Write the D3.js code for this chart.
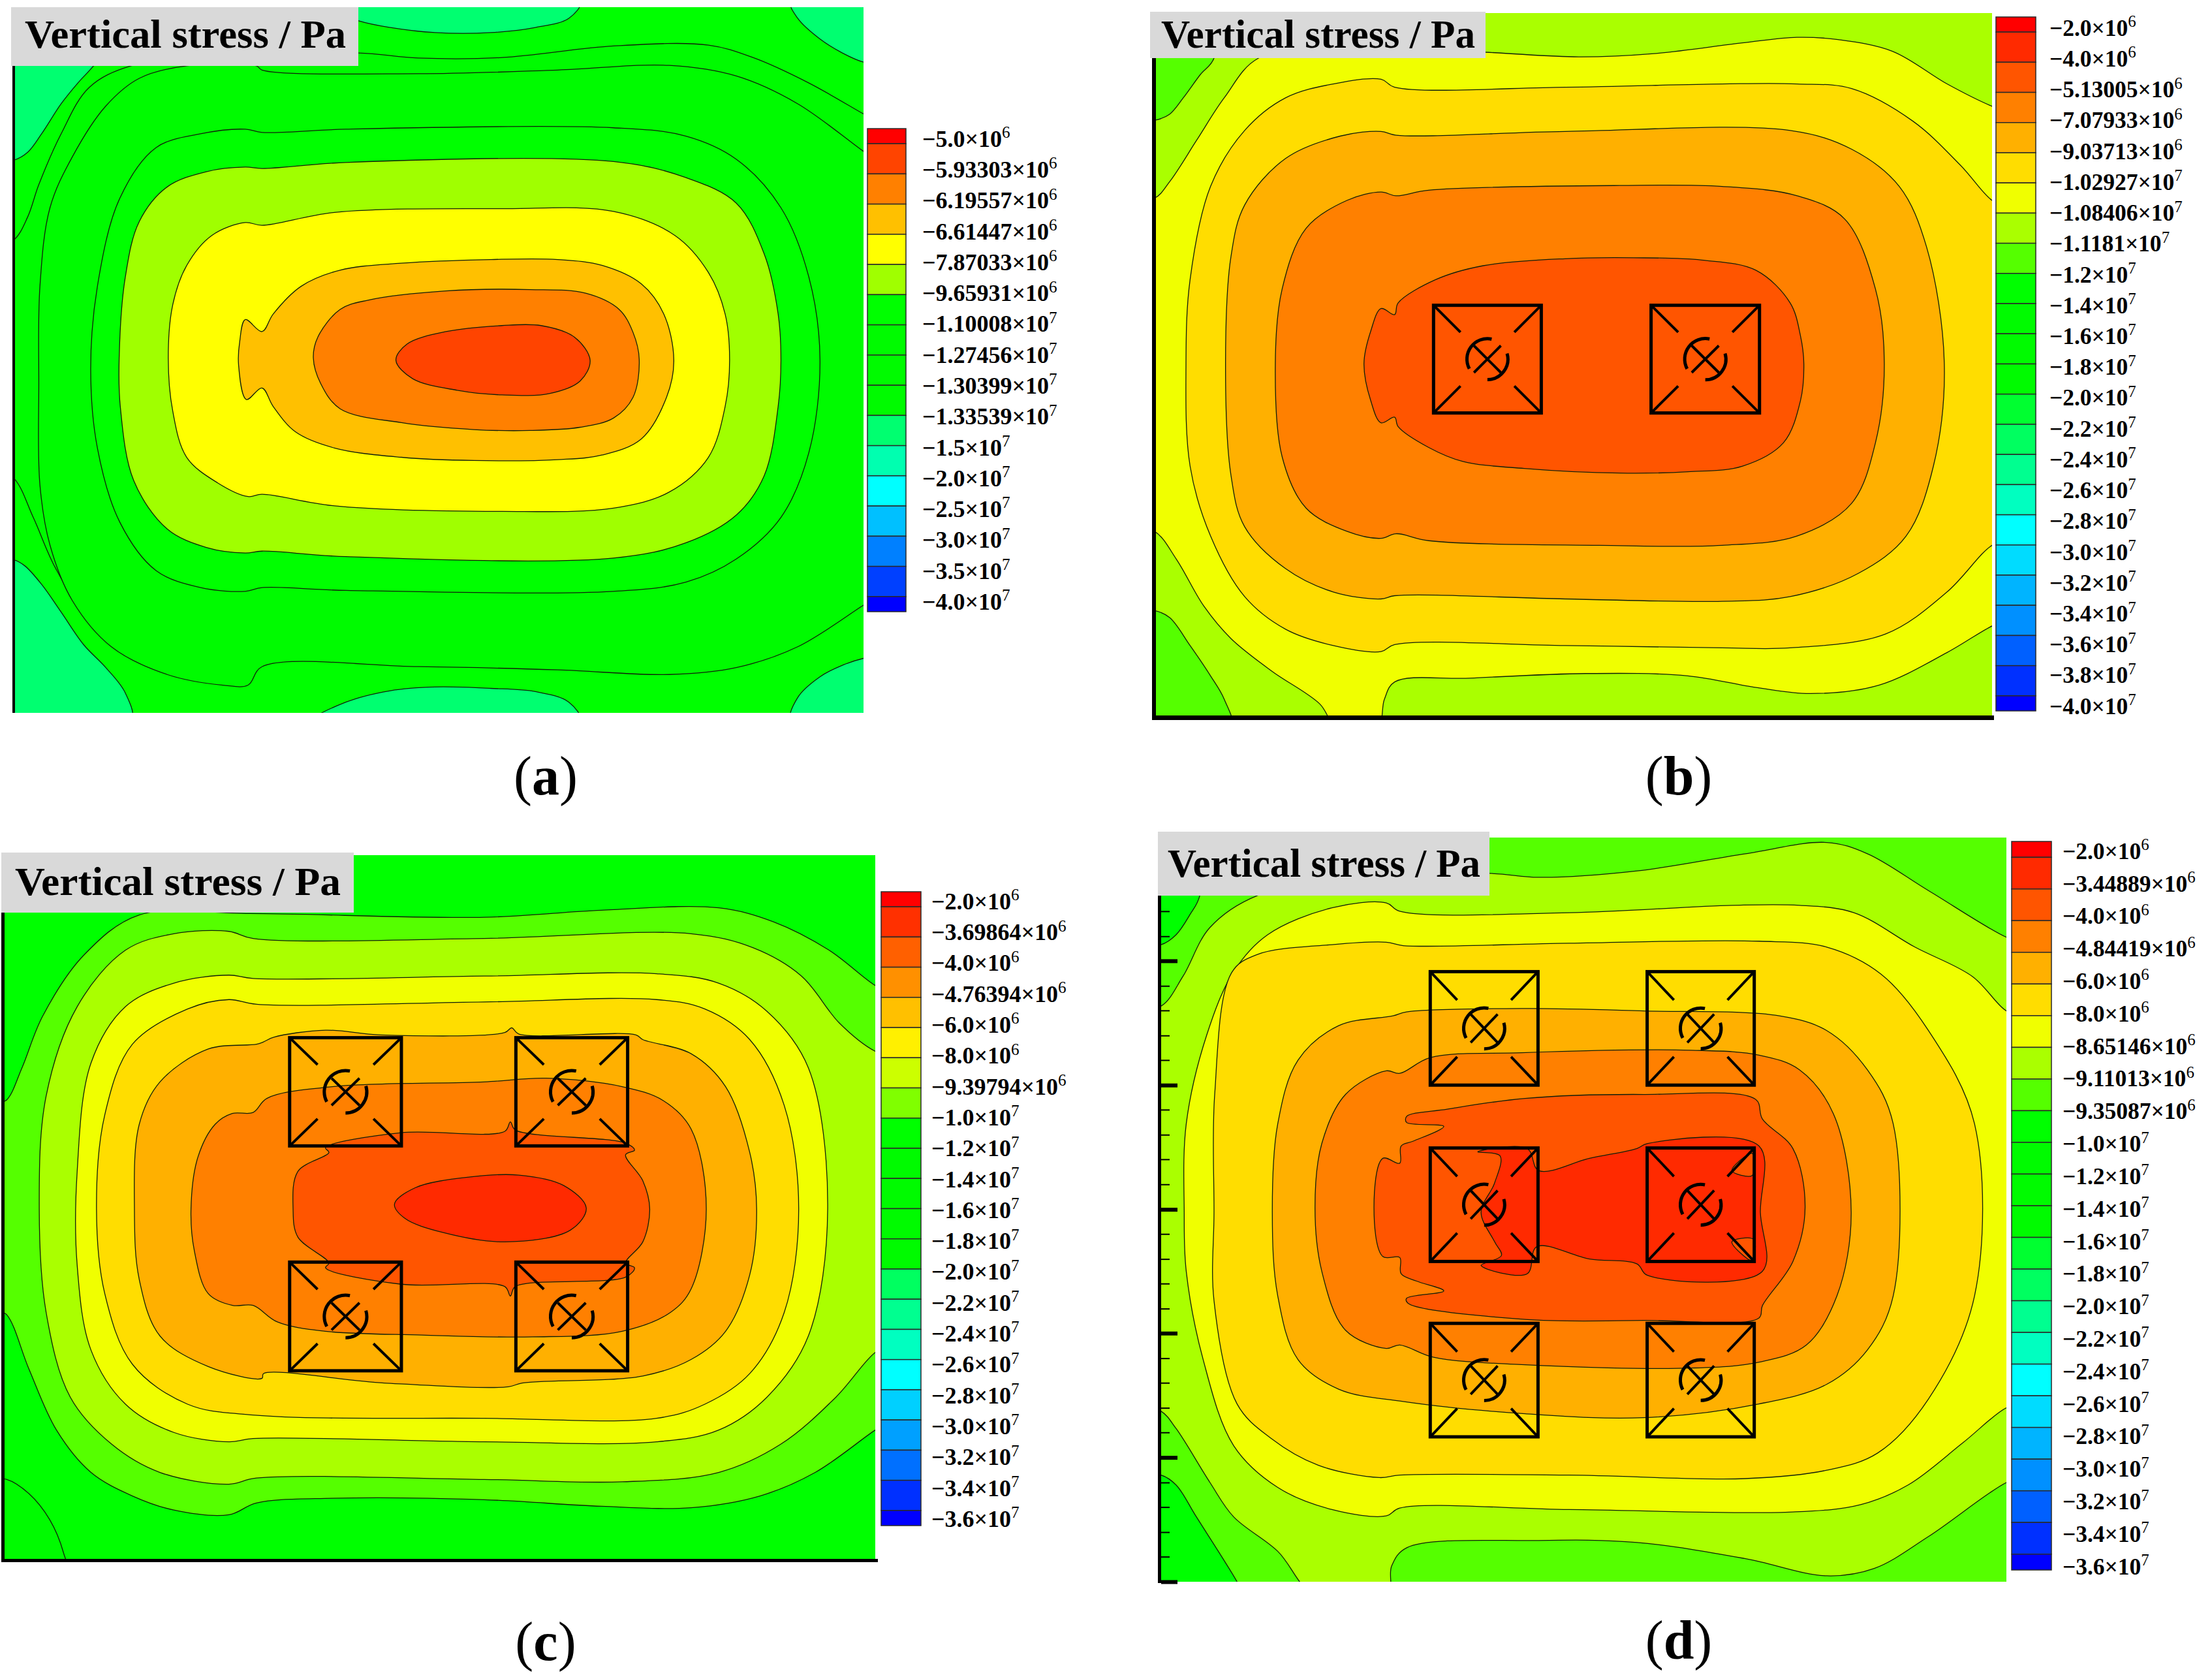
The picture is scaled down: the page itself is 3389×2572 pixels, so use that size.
<!DOCTYPE html>
<html>
<head>
<meta charset="utf-8">
<script src="https://cdn.jsdelivr.net/npm/d3@7"></script>
<style>
html, body { margin: 0; padding: 0; background: #fff; }
text { font-family: "Liberation Serif", serif; fill: #000; }
</style>
</head>
<body>
<div id="figure"></div>
<script>
var titleText = "Vertical stress / Pa";

// legend labels ("mantissa|exponent")
var legendA = ["5.0|6","5.93303|6","6.19557|6","6.61447|6","7.87033|6","9.65931|6","1.10008|7","1.27456|7","1.30399|7","1.33539|7","1.5|7","2.0|7","2.5|7","3.0|7","3.5|7","4.0|7"];
var legendB = ["2.0|6","4.0|6","5.13005|6","7.07933|6","9.03713|6","1.02927|7","1.08406|7","1.1181|7","1.2|7","1.4|7","1.6|7","1.8|7","2.0|7","2.2|7","2.4|7","2.6|7","2.8|7","3.0|7","3.2|7","3.4|7","3.6|7","3.8|7","4.0|7"];
var legendC = ["2.0|6","3.69864|6","4.0|6","4.76394|6","6.0|6","8.0|6","9.39794|6","1.0|7","1.2|7","1.4|7","1.6|7","1.8|7","2.0|7","2.2|7","2.4|7","2.6|7","2.8|7","3.0|7","3.2|7","3.4|7","3.6|7"];
var legendD = ["2.0|6","3.44889|6","4.0|6","4.84419|6","6.0|6","8.0|6","8.65146|6","9.11013|6","9.35087|6","1.0|7","1.2|7","1.4|7","1.6|7","1.8|7","2.0|7","2.2|7","2.4|7","2.6|7","2.8|7","3.0|7","3.2|7","3.4|7","3.6|7"];

var coloursA = ["#ff0000","#ff4400","#ff8000","#ffc000","#ffff00","#a0ff00","#00ff00","#00fb00","#00fb00","#00fb00","#00ff70","#00ffb0","#00ffff","#00c0ff","#0080ff","#0040ff","#0000ff"];
var coloursB = ["#ff0000","#ff2a00","#ff5500","#ff8000","#ffb000","#ffdd00","#f0ff00","#aaff00","#55ff00","#00ff00","#00fb00","#00fb00","#00fb00","#00ff30","#00ff60","#00ff90","#00ffc0","#00ffff","#00dcff","#00b4ff","#0090ff","#0060ff","#0030ff","#0000ff"];
// the colour bar of (c) does not quite follow the colours of its own map
var coloursC = ["#ff0000","#ff3000","#ff6000","#ff9000","#ffc000","#fff000","#ccff00","#80ff00","#00ff00","#00fb00","#00fb00","#00fb00","#00fb00","#00ff60","#00ff90","#00ffc0","#00ffff","#00d0ff","#00a0ff","#0070ff","#0030ff","#0000ff"];
var coloursD = coloursB;

// contour rings, outermost first: level = colour index, pts in digitised plot units
var ringsA = [
  {level: 10, pts: [[560,5],[642,45],[700,60],[780,71],[880,71],[960,60],[1020,40],[1040,5]]},
  {level: 10, pts: [[1418,5],[1430,40],[1470,85],[1510,115],[1548,135],[1575,140],[1575,5]]},
  {level: 10, pts: [[-20,347],[25,347],[50,330],[75,290],[110,225],[140,180],[168,143],[200,90],[200,-10],[-20,-10]]},
  {level: 10, pts: [[-20,1212],[25,1212],[45,1225],[75,1265],[110,1325],[150,1395],[190,1445],[225,1500],[235,1560],[-20,1560]]},
  {level: 10, pts: [[560,1560],[620,1520],[700,1495],[780,1487],[880,1490],[960,1497],[1020,1520],[1040,1560]]},
  {level: 10, pts: [[1418,1560],[1430,1510],[1470,1465],[1510,1440],[1548,1425],[1575,1420],[1575,1560]]},
  {level: 9, pts: [[-20,540],[25,520],[50,470],[70,400],[110,290],[160,190],[235,143],[400,120],[642,115],[750,126],[900,125],[1100,100],[1270,98],[1350,125],[1450,180],[1548,247],[1575,265],[1575,1215],[1548,1235],[1400,1350],[1270,1400],[1150,1415],[750,1405],[470,1405],[440,1425],[340,1425],[240,1405],[160,1340],[100,1230],[60,1120],[25,1035],[-20,1005]]},
  {level: 8, pts: [[335,143],[460,143],[470,152],[750,160],[1000,152],[1200,142],[1320,165],[1430,225],[1548,328],[1575,350],[1575,1290],[1548,1310],[1430,1400],[1320,1445],[1200,1460],[1000,1450],[750,1443],[470,1443],[445,1483],[400,1483],[300,1460],[200,1400],[130,1300],[90,1180],[72,1050],[70,830],[72,620],[90,450],[130,340],[190,230],[250,170]]},
  {level: 6, pts: [[440,280],[470,287],[620,280],[1100,277],[1230,295],[1320,345],[1400,450],[1450,600],[1470,780],[1450,980],[1400,1120],[1320,1210],[1230,1260],[1100,1280],[620,1278],[470,1272],[440,1280],[360,1272],[280,1235],[215,1130],[175,970],[163,800],[175,620],[215,430],[280,320],[360,290]]},
  {level: 5, pts: [[440,362],[470,365],[620,352],[1100,350],[1230,385],[1320,440],[1370,550],[1395,680],[1400,780],[1395,880],[1370,1030],[1320,1115],[1230,1175],[1100,1208],[620,1205],[470,1193],[440,1197],[370,1185],[300,1145],[240,1040],[216,880],[214,775],[225,600],[250,480],[300,405],[370,372]]},
  {level: 4, pts: [[440,482],[470,488],[600,460],[900,452],[1100,458],[1210,510],[1270,590],[1300,680],[1308,780],[1300,880],[1270,990],[1200,1065],[1100,1100],[900,1107],[600,1095],[470,1070],[445,1075],[390,1045],[335,990],[310,890],[302,775],[310,660],[335,575],[380,510]]},
  {level: 3, pts: [[440,692],[470,718],[490,680],[540,620],[610,585],[720,570],[880,562],[1000,562],[1080,575],[1150,615],[1190,680],[1208,780],[1195,860],[1150,950],[1080,985],[1000,995],[850,997],[720,990],[600,970],[530,935],[490,880],[470,840],[442,865],[428,790],[430,740]]},
  {level: 2, pts: [[610,670],[660,650],[800,630],[950,627],[1050,635],[1110,670],[1135,720],[1146,778],[1135,860],[1100,905],[1040,925],[950,932],[850,930],[720,915],[610,885],[575,830],[562,775],[570,730]]},
  {level: 1, pts: [[730,745],[800,718],[900,705],[970,705],[1030,730],[1058,780],[1040,825],[985,852],[900,855],[820,845],[740,820],[710,780]]}
];

var ringsB = [
  {level: 8, pts: [[-20,258],[18,258],[40,245],[60,210],[85,160],[105,125],[105,-10],[-20,-10]]},
  {level: 8, pts: [[-20,1310],[18,1310],[40,1325],[70,1385],[100,1450],[120,1500],[130,1560],[-20,1560]]},
  {level: 6, pts: [[503,112],[640,122],[750,115],[880,92],[960,80],[1020,85],[1100,110],[1180,180],[1246,228],[1270,240],[1270,1330],[1246,1343],[1180,1400],[1080,1470],[980,1488],[900,1475],[800,1450],[650,1445],[480,1455],[370,1463],[355,1500],[345,1560],[285,1560],[260,1510],[190,1440],[130,1370],[90,1300],[50,1200],[18,1140],[-20,1130],[-20,428],[18,425],[40,390],[80,300],[120,210],[170,125],[300,100]]},
  {level: 5, pts: [[350,170],[370,187],[620,187],[850,180],[960,180],[1040,190],[1130,260],[1200,355],[1246,430],[1270,445],[1270,1160],[1246,1170],[1180,1270],[1090,1360],[950,1390],[850,1390],[620,1385],[370,1383],[350,1398],[280,1385],[210,1350],[150,1280],[100,1150],[70,1000],[64,780],[70,600],[100,400],[150,280],[210,210],[280,180]]},
  {level: 4, pts: [[350,282],[372,290],[620,282],[950,280],[1040,320],[1110,400],[1150,530],[1176,780],[1160,1000],[1120,1150],[1050,1230],[950,1280],[850,1290],[620,1285],[370,1278],[350,1285],[280,1270],[210,1220],[150,1130],[130,1020],[122,780],[130,550],[150,440],[210,340],[290,292]]},
  {level: 3, pts: [[350,412],[372,420],[420,408],[700,398],[850,400],[960,420],[1030,470],[1075,620],[1088,780],[1075,950],[1040,1080],[960,1150],[850,1170],[670,1170],[420,1160],[372,1145],[350,1155],[300,1140],[240,1090],[205,980],[195,780],[205,620],[240,490],[300,430]]},
  {level: 2, pts: [[350,662],[370,675],[375,650],[430,600],[500,570],[620,555],[720,553],[820,558],[900,580],[950,650],[965,720],[970,780],[965,860],[940,950],[880,1000],[800,1012],[700,1015],[560,1005],[470,990],[420,960],[375,915],[370,895],[350,907],[335,860],[325,780],[335,710]]}
];

var ringsC = [
  {level: 10, pts: [[-20,1355],[8,1355],[40,1385],[70,1440],[90,1510],[95,1560],[-20,1560]]},
  {level: 8, pts: [[-10,560],[8,548],[30,480],[60,370],[120,240],[200,155],[360,152],[700,160],[870,145],[1040,140],[1120,170],[1200,230],[1267,305],[1290,320],[1290,1230],[1267,1250],[1180,1340],[1100,1390],[1000,1415],[870,1412],[700,1398],[480,1395],[370,1405],[330,1430],[250,1420],[190,1390],[130,1340],[80,1250],[40,1120],[8,1005],[-10,990]]},
  {level: 7, pts: [[330,190],[365,205],[700,205],[1000,195],[1090,225],[1160,285],[1215,385],[1267,445],[1290,455],[1290,1070],[1267,1085],[1210,1180],[1130,1280],[1040,1340],[900,1360],[700,1355],[370,1352],[330,1365],[230,1340],[160,1280],[100,1180],[65,1000],[55,780],[65,540],[110,350],[180,230],[250,195]]},
  {level: 6, pts: [[330,283],[365,290],[700,285],[950,280],[1040,300],[1110,360],[1170,480],[1198,780],[1170,1050],[1110,1180],[1040,1250],[950,1275],[700,1275],[365,1268],[330,1275],[250,1255],[180,1195],[130,1080],[110,900],[110,700],[130,470],[180,350],[250,300]]},
  {level: 5, pts: [[330,335],[370,345],[700,340],[950,335],[1020,355],[1085,420],[1135,560],[1156,780],[1135,1000],[1085,1130],[1020,1195],[950,1225],[700,1225],[365,1218],[270,1195],[190,1110],[150,960],[138,780],[150,580],[190,430],[270,355]]},
  {level: 4, pts: [[380,425],[395,415],[470,400],[550,410],[730,405],[740,395],[750,408],[920,410],[930,420],[1000,450],[1050,520],[1085,660],[1095,780],[1085,920],[1050,1040],[1000,1100],[930,1135],[755,1150],[735,1158],[555,1150],[380,1130],[378,1140],[300,1115],[230,1050],[200,930],[193,780],[200,600],[230,510],[300,440],[370,430]]},
  {level: 3, pts: [[335,577],[365,575],[385,545],[480,520],[700,510],[790,502],[900,520],[960,550],[1000,610],[1022,780],[1000,950],[970,1000],[900,1040],[770,1052],[610,1048],[470,1040],[400,1020],[365,985],[335,985],[300,960],[280,870],[275,780],[285,670],[310,600]]},
  {level: 2, pts: [[430,700],[475,660],[470,650],[580,618],[730,615],[738,595],[745,612],[905,640],[918,655],[905,665],[930,720],[940,780],[930,850],[905,895],[918,905],[905,925],[745,945],[738,965],[730,945],[580,940],[470,905],[475,895],[430,840],[423,780]]},
  {level: 1, pts: [[570,770],[600,735],[680,712],[750,708],[815,730],[848,778],[825,825],[730,850],[640,830],[585,800]]}
];

var ringsD = [
  {level: 9, pts: [[-20,235],[18,235],[40,215],[60,175],[75,135],[75,-10],[-20,-10]]},
  {level: 9, pts: [[-20,1315],[18,1315],[40,1335],[70,1400],[130,1532],[140,1560],[-20,1560]]},
  {level: 7, pts: [[503,90],[575,98],[720,85],[880,50],[1000,27],[1060,50],[1150,125],[1265,220],[1290,230],[1290,1320],[1265,1330],[1150,1440],[1070,1505],[1000,1520],[880,1485],[720,1452],[575,1448],[380,1463],[358,1500],[352,1560],[245,1560],[190,1470],[125,1400],[90,1330],[40,1220],[18,1185],[-20,1170],[-20,365],[18,360],[50,300],[90,200],[160,135],[300,100]]},
  {level: 6, pts: [[350,150],[370,167],[620,170],[860,155],[960,155],[1040,170],[1130,240],[1215,300],[1265,370],[1290,380],[1290,1170],[1265,1178],[1200,1250],[1120,1335],[1050,1375],[950,1390],[620,1385],[370,1382],[350,1398],[270,1385],[190,1340],[125,1255],[80,1080],[55,900],[52,780],[55,600],[85,420],[125,290],[175,215],[270,160]]},
  {level: 5, pts: [[350,230],[375,237],[620,232],[900,228],[1000,240],[1080,295],[1150,410],[1218,600],[1218,950],[1150,1160],[1075,1270],[1000,1305],[880,1322],[620,1315],[370,1315],[340,1320],[250,1295],[180,1240],[130,1170],[96,960],[96,780],[97,540],[122,292],[160,255],[270,235]]},
  {level: 4, pts: [[380,372],[555,365],[730,370],[930,380],[1000,410],[1060,490],[1098,600],[1098,950],[1060,1060],[1000,1130],[900,1170],[730,1198],[555,1190],[375,1165],[280,1140],[220,1080],[190,950],[182,780],[190,600],[220,470],[280,400],[360,380]]},
  {level: 3, pts: [[350,492],[370,497],[415,465],[550,455],[800,450],[900,460],[960,490],[1010,580],[1036,780],[1015,950],[970,1050],[900,1085],[800,1097],[550,1090],[420,1075],[370,1050],[350,1057],[290,1020],[255,900],[245,770],[255,640],[290,540]]},
  {level: 2, pts: [[380,585],[380,597],[435,605],[390,635],[372,645],[370,680],[345,670],[332,770],[345,870],[370,872],[372,905],[395,920],[435,940],[380,955],[382,965],[555,998],[730,1000],[900,995],[905,970],[950,880],[968,770],[950,650],[905,590],[895,550],[730,540],[555,548],[440,570]]},
  {level: 1, pts: [[485,657],[558,650],[575,695],[650,670],[720,650],[735,640],[900,645],[902,780],[905,900],[735,908],[720,885],[650,875],[572,850],[558,905],[490,888],[520,868],[510,840],[490,780],[510,720],[518,665]]},
  {level: 2, pts: [[890,660],[860,695],[890,705]]},
  {level: 2, pts: [[860,840],[890,878],[892,835]]}
];

// pillar boxes: left, right, top, bottom
var pillarsB = [[427,585,655,886],[746,905,655,886]];
var pillarsC = [[418,580,416,646],[746,908,416,646],[418,580,893,1124],[746,908,893,1124]];
var pillarsD = [[415,574,290,521],[735,893,290,521],[415,574,649,880],[735,893,649,880],[415,574,1006,1237],[735,893,1006,1237]];

var ticksDMajor = [268,521,774,1026,1279,1532];
var ticksDMinor = [167,218,319,369,420,470,571,622,672,723,824,875,925,976,1077,1127,1178,1228,1330,1380,1431,1481];

var panels = [
  {tag: "a", rings: ringsA, base: 6, colours: coloursA, barColours: coloursA, labels: legendA, pillars: [],
   domX: [25,1548], domY: [16,1543], x0: 21, x1: 1323, y0: 11, y1: 1092,
   box: [17,549,11,101], title: [38,73,492],
   leg: [1329,1388,197,937], lab: [1413,213,922], fs: 36,
   axisL: [19,4,100,1092], axisB: null, letter: [836,1217]},
  {tag: "b", rings: ringsB, base: 7, colours: coloursB, barColours: coloursB, labels: legendB, pillars: pillarsB,
   domX: [18,1246], domY: [28,1535], x0: 1769, x1: 3052, y0: 20, y1: 1096,
   box: [1762,2276,18,89], title: [1779,73,481],
   leg: [3058,3119,26,1089], lab: [3140,43,1082], fs: 35.5,
   axisL: [1765,6,89,1103], axisB: [1765,3055,1096,7], letter: [2572,1217]},
  {tag: "c", rings: ringsC, base: 9, colours: coloursB, barColours: coloursC, labels: legendC, pillars: pillarsC,
   domX: [0,1267], domY: [28,1528], x0: 2, x1: 1341, y0: 1310, y1: 2391,
   box: [2,542,1306,1398], title: [23,1371,499],
   leg: [1350,1411,1366,2337], lab: [1427,1381,2327], fs: 36,
   axisL: [2,5,1398,2393], axisB: [2,1345,2388,5], letter: [836,2543]},
  {tag: "d", rings: ringsD, base: 8, colours: coloursD, barColours: coloursD, labels: legendD, pillars: pillarsD,
   domX: [18,1265], domY: [17,1532], x0: 1779, x1: 3074, y0: 1283, y1: 2423,
   box: [1774,2282,1274,1372], title: [1789,1343,479],
   leg: [3082,3143,1289,2405], lab: [3160,1304,2400], fs: 35.5,
   axisL: null, axisB: null, letter: [2572,2541]}
];

var svg = d3.select("#figure").append("svg")
    .attr("width", 3389)
    .attr("height", 2572)
    .style("display", "block");

var ringLine = d3.line().curve(d3.curveCatmullRomClosed.alpha(0.5));

panels.forEach(function(p) { drawPanel(p); });

function drawPanel(p) {
  var xS = d3.scaleLinear().domain(p.domX).range([p.x0, p.x1]);
  var yS = d3.scaleLinear().domain(p.domY).range([p.y0, p.y1]);
  var g = svg.append("g").attr("id", "panel-" + p.tag);

  g.append("clipPath").attr("id", "clip-" + p.tag)
    .append("rect")
    .attr("x", p.x0).attr("y", p.y0)
    .attr("width", p.x1 - p.x0).attr("height", p.y1 - p.y0);

  var plot = g.append("g").attr("clip-path", "url(#clip-" + p.tag + ")");

  plot.append("rect")
    .attr("x", p.x0).attr("y", p.y0)
    .attr("width", p.x1 - p.x0).attr("height", p.y1 - p.y0)
    .attr("fill", p.colours[p.base]);

  plot.selectAll("path.ring").data(p.rings).enter().append("path")
    .attr("class", "ring")
    .attr("d", function(d) { return ringLine(d.pts.map(function(q) { return [xS(q[0]), yS(q[1])]; })); })
    .attr("fill", function(d) { return p.colours[d.level]; })
    .attr("stroke", "#10200a")
    .attr("stroke-width", 1.3);

  p.pillars.forEach(function(b) { drawPillar(g, xS(b[0]), xS(b[1]), yS(b[2]), yS(b[3])); });

  if (p.axisL) {
    g.append("rect").attr("x", p.axisL[0]).attr("width", p.axisL[1])
      .attr("y", p.axisL[2]).attr("height", p.axisL[3] - p.axisL[2]).attr("fill", "#000");
  }
  if (p.axisB) {
    g.append("rect").attr("x", p.axisB[0]).attr("width", p.axisB[1] - p.axisB[0])
      .attr("y", p.axisB[2]).attr("height", p.axisB[3]).attr("fill", "#000");
  }
  if (p.tag == "d") {
    // panel (d) keeps its inward tick marks on the left
    g.append("g").attr("transform", "translate(" + p.x0 + ",0)")
      .call(d3.axisRight(yS).tickValues(ticksDMinor).tickSize(13).tickFormat(""))
      .call(function(s) { s.select(".domain").remove(); s.selectAll("line").attr("stroke-width", 2); });
    g.append("g").attr("transform", "translate(" + p.x0 + ",0)")
      .call(d3.axisRight(yS).tickValues(ticksDMajor).tickSize(25).tickFormat(""))
      .call(function(s) { s.select(".domain").remove(); s.selectAll("line").attr("stroke-width", 6); });
    g.append("rect").attr("x", 1774).attr("width", 5).attr("y", 1372).attr("height", 1053).attr("fill", "#000");
  }

  // title box
  g.append("rect")
    .attr("x", p.box[0]).attr("y", p.box[2])
    .attr("width", p.box[1] - p.box[0]).attr("height", p.box[3] - p.box[2])
    .attr("fill", "#d9d9d9");
  g.append("text")
    .attr("x", p.title[0]).attr("y", p.title[1])
    .attr("textLength", p.title[2]).attr("lengthAdjust", "spacingAndGlyphs")
    .style("font-size", "62px").style("font-weight", "bold")
    .text(titleText);

  drawLegend(g, p);

  var letter = g.append("text")
    .attr("x", p.letter[0]).attr("y", p.letter[1])
    .attr("text-anchor", "middle")
    .style("font-size", "84px");
  letter.append("tspan").text("(");
  letter.append("tspan").style("font-weight", "bold").text(p.tag);
  letter.append("tspan").text(")");
}

function drawLegend(g, p) {
  var n = p.labels.length;
  var yL = d3.scaleLinear().domain([-0.5, n - 0.5]).range([p.leg[2], p.leg[3]]);
  var yT = d3.scalePoint().domain(p.labels).range([p.lab[1], p.lab[2]]);

  g.selectAll("rect.cell").data(p.barColours).enter().append("rect")
    .attr("class", "cell")
    .attr("x", p.leg[0])
    .attr("width", p.leg[1] - p.leg[0])
    .attr("y", function(d, i) { return yL(Math.max(i - 1, -0.5)); })
    .attr("height", function(d, i) { return yL(Math.min(i, n - 0.5)) - yL(Math.max(i - 1, -0.5)); })
    .attr("fill", function(d) { return d; })
    .attr("stroke", "#2a2a2a")
    .attr("stroke-width", 1.5);

  var lab = g.selectAll("text.leg").data(p.labels).enter().append("text")
    .attr("class", "leg")
    .attr("x", p.lab[0])
    .attr("y", function(d) { return yT(d) + p.fs * 0.33; })
    .style("font-size", p.fs + "px")
    .style("font-weight", "bold");
  lab.append("tspan").text(function(d) { return "\u2212" + d.split("|")[0] + "\u00d710"; });
  lab.append("tspan")
    .attr("dy", -p.fs * 0.38)
    .style("font-size", (p.fs * 0.7) + "px")
    .style("font-weight", "normal")
    .text(function(d) { return d.split("|")[1]; });
}

function drawPillar(g, x0, x1, y0, y1) {
  var w = x1 - x0, h = y1 - y0, cx = (x0 + x1) / 2, cy = (y0 + y1) / 2;
  var pg = g.append("g").attr("fill", "none").attr("stroke", "#000");
  pg.append("rect").attr("x", x0).attr("y", y0).attr("width", w).attr("height", h).attr("stroke-width", 5);

  var corners = [[x0,y0,1,1],[x1,y0,-1,1],[x0,y1,1,-1],[x1,y1,-1,-1]];
  corners.forEach(function(c) {
    pg.append("line").attr("x1", c[0]).attr("y1", c[1])
      .attr("x2", c[0] + c[2] * w * 0.25).attr("y2", c[1] + c[3] * h * 0.25)
      .attr("stroke-width", 4);
  });

  [[-1,-1],[1,-1]].forEach(function(c) {
    pg.append("line").attr("x1", cx + c[0] * w * 0.125).attr("y1", cy + c[1] * h * 0.125)
      .attr("x2", cx - c[0] * w * 0.125).attr("y2", cy - c[1] * h * 0.125)
      .attr("stroke-width", 4);
  });

  var arc = d3.arc().innerRadius(w * 0.19).outerRadius(w * 0.19);
  var rad = Math.PI / 180;
  pg.append("path").attr("transform", "translate(" + cx + "," + cy + ")")
    .attr("d", arc({startAngle: -118 * rad, endAngle: 12 * rad})).attr("stroke-width", 5);
  pg.append("path").attr("transform", "translate(" + cx + "," + cy + ")")
    .attr("d", arc({startAngle: 74 * rad, endAngle: 180 * rad})).attr("stroke-width", 5);
}
</script>
</body>
</html>
